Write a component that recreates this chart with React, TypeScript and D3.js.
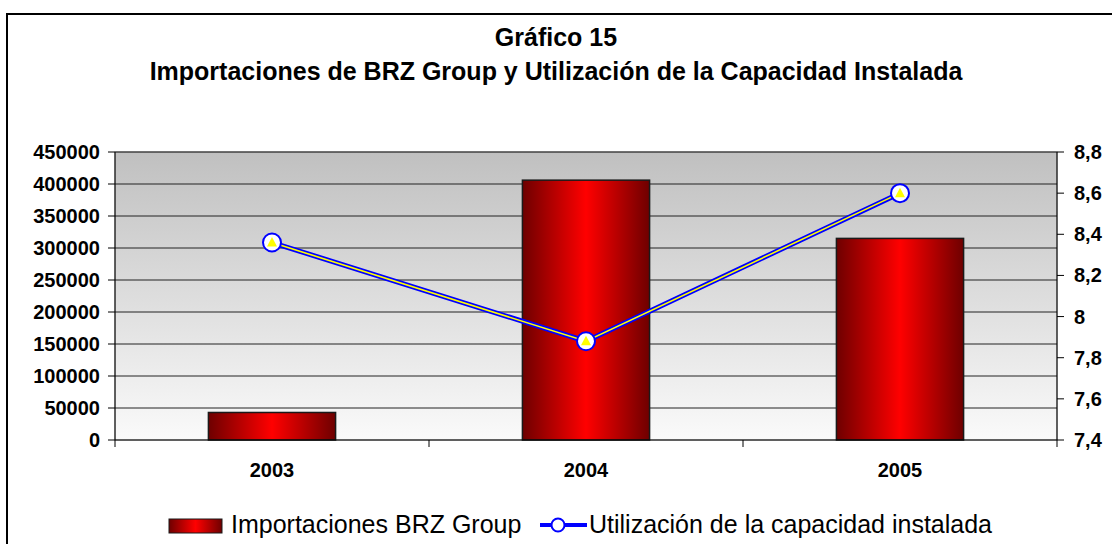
import React from "react";
import * as d3 from "d3";

const categories = ["2003", "2004", "2005"];
const importaciones = [43000, 406000, 315000];
const utilizacion = [8.36, 7.88, 8.6];
const leftTicks = [0, 50000, 100000, 150000, 200000, 250000, 300000, 350000, 400000, 450000];
const rightTicks = [7.4, 7.6, 7.8, 8.0, 8.2, 8.4, 8.6, 8.8];

const W = 1112, H = 544;
const M = { left: 115, right: 1057, top: 152, bottom: 440 };
const FONT = "'Liberation Sans', Arial, sans-serif";

export default function App() {
  const x = d3.scaleBand<string>().domain(categories).range([M.left, M.right]).paddingInner(0).paddingOuter(0);
  const yL = d3.scaleLinear().domain([0, 450000]).range([M.bottom, M.top]);
  const yR = d3.scaleLinear().domain([7.4, 8.8]).range([M.bottom, M.top]);
  const bw = x.bandwidth() * 0.405;
  const fmtR = (v: number) => (Math.abs(v - 8) < 1e-9 ? "8" : d3.format(".1f")(v).replace(".", ","));
  const line = d3.line<number>()
    .x((_, i) => x(categories[i])! + x.bandwidth() / 2)
    .y((d) => yR(d));
  const pts = utilizacion.map((v, i) => [x(categories[i])! + x.bandwidth() / 2, yR(v)]);
  const tri = (cx: number, cy: number) =>
    `M${cx},${cy - 5.5} L${cx + 5},${cy + 4} L${cx - 5},${cy + 4} Z`;

  return (
    <svg width={W} height={H} style={{ position: "absolute", left: 0, top: 0, background: "#fff" }} fontFamily={FONT}>
      <defs>
        <linearGradient id="bg" x1="0" y1="0" x2="0" y2="1">
          <stop offset="0%" stopColor="#c0c0c0" />
          <stop offset="100%" stopColor="#fafafa" />
        </linearGradient>
        <linearGradient id="bar" x1="0" y1="0" x2="1" y2="0">
          <stop offset="0%" stopColor="#6e0000" />
          <stop offset="50%" stopColor="#ff0000" />
          <stop offset="100%" stopColor="#6e0000" />
        </linearGradient>
      </defs>
      <rect x={7} y={14} width={1200} height={600} fill="#fff" stroke="#000" strokeWidth={2} />
      <text x={556} y={46} textAnchor="middle" fontWeight="bold" fontSize={25}>Gráfico 15</text>
      <text x={556} y={80} textAnchor="middle" fontWeight="bold" fontSize={25}>
        Importaciones de BRZ Group y Utilización de la Capacidad Instalada
      </text>

      <rect x={M.left} y={M.top} width={M.right - M.left} height={M.bottom - M.top} fill="url(#bg)" stroke="#808080" strokeWidth={1} />
      {leftTicks.slice(1).map((t) => (
        <line key={t} x1={M.left} x2={M.right} y1={yL(t)} y2={yL(t)} stroke="#222" strokeWidth={1} />
      ))}

      {importaciones.map((v, i) => (
        <rect key={i} x={x(categories[i])! + (x.bandwidth() - bw) / 2} y={yL(v)} width={bw} height={M.bottom - yL(v)}
          fill="url(#bar)" stroke="#1a1a1a" strokeWidth={1.5} />
      ))}

      {/* axes */}
      <line x1={M.left} x2={M.left} y1={M.top} y2={M.bottom} stroke="#000" strokeWidth={1} />
      <line x1={M.right} x2={M.right} y1={M.top} y2={M.bottom} stroke="#000" strokeWidth={1} />
      <line x1={M.left} x2={M.right} y1={M.bottom} y2={M.bottom} stroke="#000" strokeWidth={1} />
      {leftTicks.map((t) => (
        <g key={t}>
          <line x1={M.left - 7} x2={M.left} y1={yL(t)} y2={yL(t)} stroke="#000" />
          <text x={100} y={yL(t) + 7} textAnchor="end" fontWeight="bold" fontSize={20}>{t}</text>
        </g>
      ))}
      {rightTicks.map((t) => (
        <g key={t}>
          <line x1={M.right} x2={M.right + 7} y1={yR(t)} y2={yR(t)} stroke="#000" />
          <text x={1074} y={yR(t) + 7} textAnchor="start" fontWeight="bold" fontSize={20}>{fmtR(t)}</text>
        </g>
      ))}
      {[...categories.map((c) => x(c)!), M.right].map((xx, i) => (
        <line key={i} x1={xx} x2={xx} y1={M.bottom} y2={M.bottom + 7} stroke="#000" />
      ))}
      {categories.map((c) => (
        <text key={c} x={x(c)! + x.bandwidth() / 2} y={477} textAnchor="middle" fontWeight="bold" fontSize={20}>{c}</text>
      ))}

      {/* line series */}
      <path d={line(utilizacion)!} fill="none" stroke="#0000ff" strokeWidth={5} />
      <path d={line(utilizacion)!} fill="none" stroke="#ffff00" strokeWidth={1.6} />
      {pts.map(([cx, cy], i) => (
        <g key={i}>
          <circle cx={cx} cy={cy} r={9} fill="#fff" stroke="#0000ff" strokeWidth={2} />
          <path d={tri(cx, cy)} fill="#ffff00" />
        </g>
      ))}

      {/* legend */}
      <rect x={169} y={519} width={53} height={14} fill="url(#bar)" stroke="#1a1a1a" strokeWidth={1} />
      <text x={231} y={533} fontSize={25}>Importaciones BRZ Group</text>
      <line x1={540} x2={587} y1={525} y2={525} stroke="#0000ff" strokeWidth={4} />
      <circle cx={558} cy={525} r={6.5} fill="#fff" stroke="#0000ff" strokeWidth={2} />
      <text x={589} y={533} fontSize={25}>Utilización de la capacidad instalada</text>
    </svg>
  );
}
